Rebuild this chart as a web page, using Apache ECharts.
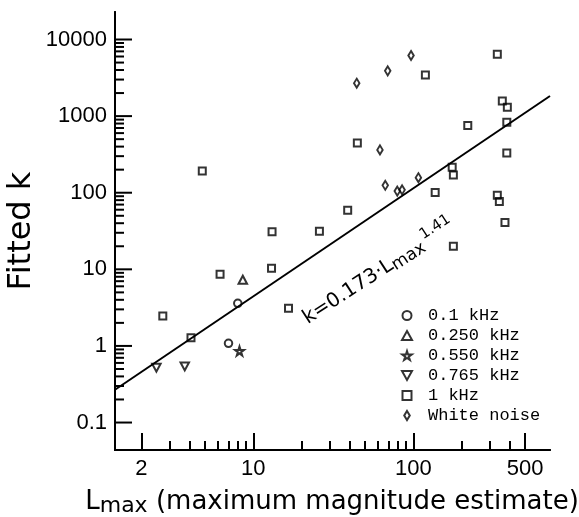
<!DOCTYPE html>
<html><head><meta charset="utf-8">
<script src="https://cdn.jsdelivr.net/npm/echarts@6/dist/echarts.min.js"></script>
<style>html,body{margin:0;padding:0;background:#fff}#c{width:579px;height:517px}</style>
</head><body><div id="c"></div>
<script>
// ---- axis ranges and ticks ----
const xRange = [1.367, 715];
const yRange = [0.0438, 22860];
const xMajorTicks = [2, 10, 100, 500];
const xTickLabels = ['2', '10', '100', '500'];
const xMinorTicks = [3, 4, 5, 6, 7, 8, 9, 20, 30, 40, 50, 60, 70, 80, 90, 200, 300, 400];
const yMajorTicks = [0.1, 1, 10, 100, 1000, 10000];
const yTickLabels = ['0.1', '1', '10', '100', '1000', '10000'];
const yMinorTicks = [0.2, 0.3, 0.4, 0.5, 0.6, 0.7, 0.8, 0.9,
  2, 3, 4, 5, 6, 7, 8, 9,
  20, 30, 40, 50, 60, 70, 80, 90,
  200, 300, 400, 500, 600, 700, 800, 900,
  2000, 3000, 4000, 5000, 6000, 7000, 8000, 9000];

// ---- data [Lmax, fitted k] ----
const seriesNames = ['0.1 kHz', '0.250 kHz', '0.550 kHz', '0.765 kHz', '1 kHz', 'White noise'];
const data01kHz = [[8.0, 3.6], [7.0, 1.08]];
const data0250kHz = [[8.6, 7.3]];
const data0550kHz = [[8.2, 0.86]];
const data0765kHz = [[2.48, 0.52], [3.73, 0.54]];
const data1kHz = [[4.8, 192], [13.1, 31], [13.0, 10.3], [6.2, 8.6], [16.6, 3.1], [2.72, 2.45],
  [4.08, 1.28], [25.9, 31.5], [38.9, 59], [44.7, 447], [119, 3430], [137, 101], [175, 215],
  [178, 170], [178, 20], [219, 752], [335, 6440], [360, 1580], [387, 1306], [384, 832],
  [384, 330], [335, 93], [345, 77], [374, 41]];
const dataWhiteNoise = [[44.3, 2690], [69.2, 3900], [96.8, 6180], [61.9, 362], [66.8, 125],
  [79.4, 105], [85.1, 109], [107.6, 157]];
const fitLine = [[1.367, 0.268], [715, 1830]];

const xTitle = '{L|L}{sub|max}{r| (maximum magnitude estimate)}';
const yTitle = 'Fitted k';
const fitLabel = '{a|k=0.173·L}{sub|max}{sup|1.41}';

const BLACK = '#000';
const FONT_TICK = 'Liberation Sans';
const FONT_TITLE = 'DejaVu Sans';

function lookup(ticks, labels) {
  return function (v) {
    for (let i = 0; i < ticks.length; i++) {
      if (Math.abs(v - ticks[i]) / ticks[i] < 1e-6) return labels[i];
    }
    return '';
  };
}

function ls() { return { color: BLACK, width: 2 }; }
function baseAxis(range) {
  return {
    type: 'log', logBase: 10, min: range[0], max: range[1],
    splitLine: { show: false }, minorTick: { show: false }, minorSplitLine: { show: false },
    axisLine: { show: true, onZero: false, lineStyle: ls() }
  };
}

// y-axis tick marks drawn through the chart's own coordinate system
function yTickRenderer(len) {
  return function (params, api) {
    const p = api.coord([api.value(0), api.value(1)]);
    return {
      type: 'line',
      shape: { x1: p[0], y1: p[1], x2: p[0] + len, y2: p[1] },
      style: { stroke: BLACK, lineWidth: 2 }
    };
  };
}

const hollow = { color: 'rgba(0,0,0,0)', borderColor: BLACK, borderWidth: 2 };
const starPath = 'path://M50,0L61,35L98,35L68,57L79,91L50,70L21,91L32,57L2,35L39,35Z';
const upTri = 'path://M5,0L10,9L0,9Z';
const downTri = 'path://M0,0L10,0L5,9Z';
const squarePath = 'path://M0,0L10,0L10,10L0,10Z';
const diamondPath = 'path://M4,0L8,6.5L4,13L0,6.5Z';

const chart = echarts.init(document.getElementById('c'), null, { renderer: 'canvas' });
chart.setOption({
  animation: false,
  backgroundColor: '#fff',
  grid: { left: 115, right: 29, top: 12, bottom: 67, containLabel: false, outerBoundsMode: 'none' },
  xAxis: [
    Object.assign(baseAxis(xRange), {
      position: 'bottom',
      axisTick: { show: true, inside: true, length: 9, lineStyle: ls(), customValues: xMinorTicks },
      axisLabel: { show: false }
    }),
    Object.assign(baseAxis(xRange), {
      position: 'bottom',
      axisTick: { show: true, inside: true, length: 17, lineStyle: ls(), customValues: xMajorTicks },
      axisLabel: {
        show: true, customValues: xMajorTicks, formatter: lookup(xMajorTicks, xTickLabels),
        fontFamily: FONT_TICK, fontSize: 22, color: BLACK, margin: 8
      }
    })
  ],
  yAxis: [
    Object.assign(baseAxis(yRange), {
      position: 'left',
      axisTick: { show: false },
      axisLabel: { show: false }
    }),
    Object.assign(baseAxis(yRange), {
      position: 'left',
      axisTick: { show: false },
      axisLabel: {
        show: true, customValues: yMajorTicks, formatter: lookup(yMajorTicks, yTickLabels),
        fontFamily: FONT_TICK, fontSize: 22, color: BLACK, margin: 8
      }
    })
  ],
  legend: {
    orient: 'vertical', left: 401, top: 307, padding: 0, itemGap: 3,
    itemWidth: 32, itemHeight: 9, selectedMode: false,
    textStyle: { fontFamily: 'Liberation Mono', fontSize: 17, color: BLACK },
    data: seriesNames
  },
  graphic: [
    {
      type: 'text', x: 332, y: 502, z: 10,
      style: {
        text: xTitle, align: 'center', verticalAlign: 'middle',
        rich: {
          L: { fontFamily: FONT_TITLE, fontSize: 26, fill: BLACK },
          sub: { fontFamily: FONT_TITLE, fontSize: 22, fill: BLACK, padding: [9, 0, 0, 0] },
          r: { fontFamily: FONT_TITLE, fontSize: 26, fill: BLACK }
        }
      }
    },
    {
      type: 'text', x: 22, y: 231, rotation: Math.PI / 2, z: 10,
      style: {
        text: yTitle, align: 'center', verticalAlign: 'middle',
        font: '32px "DejaVu Sans"', fill: BLACK
      }
    },
    {
      type: 'text', x: 305, y: 320, rotation: 33 * Math.PI / 180, z: 10,
      style: {
        text: fitLabel, align: 'left', verticalAlign: 'middle',
        rich: {
          a: { fontFamily: FONT_TITLE, fontSize: 20, fill: BLACK },
          sub: { fontFamily: FONT_TITLE, fontSize: 17, fill: BLACK, padding: [7, 0, 0, 0] },
          sup: { fontFamily: FONT_TITLE, fontSize: 15, fill: BLACK, padding: [0, 0, 14, 3] }
        }
      }
    }
  ],
  series: [
    { type: 'custom', name: 'yMinorTicks', xAxisIndex: 0, yAxisIndex: 0, silent: true, clip: false, z: 4,
      data: yMinorTicks.map(v => [xRange[0], v]), renderItem: yTickRenderer(9) },
    { type: 'custom', name: 'yMajorTicks', xAxisIndex: 0, yAxisIndex: 0, silent: true, clip: false, z: 4,
      data: yMajorTicks.map(v => [xRange[0], v]), renderItem: yTickRenderer(17) },
    { type: 'line', name: 'fit', data: fitLine, xAxisIndex: 0, yAxisIndex: 0, symbol: 'none', showSymbol: false,
      lineStyle: { color: BLACK, width: 2 }, silent: true, z: 1 },
    { type: 'scatter', name: seriesNames[0], data: data01kHz, symbol: 'circle', symbolSize: 7.5, itemStyle: hollow, z: 3 },
    { type: 'scatter', name: seriesNames[1], data: data0250kHz, symbol: upTri, symbolSize: [8.5, 8], itemStyle: hollow, z: 3 },
    { type: 'scatter', name: seriesNames[2], data: data0550kHz, symbol: starPath, symbolSize: 9, itemStyle: hollow, z: 3 },
    { type: 'scatter', name: seriesNames[3], data: data0765kHz, symbol: downTri, symbolSize: [8.5, 8], itemStyle: hollow, z: 3 },
    { type: 'scatter', name: seriesNames[4], data: data1kHz, symbol: squarePath, symbolSize: 7, itemStyle: hollow, z: 3 },
    { type: 'scatter', name: seriesNames[5], data: dataWhiteNoise, symbol: diamondPath, symbolSize: [5.5, 9], itemStyle: hollow, z: 3 }
  ]
});
</script></body></html>
